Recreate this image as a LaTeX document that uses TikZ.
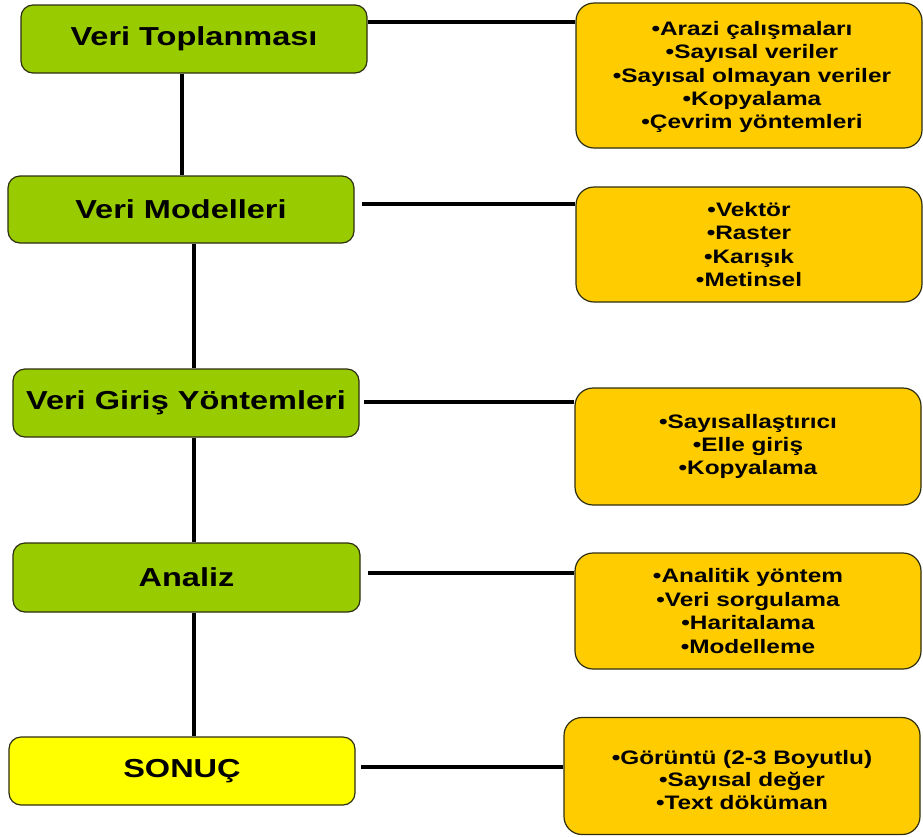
\documentclass[tikz,border=0pt]{standalone}
\usepackage{fontspec}
\setmainfont[FakeStretch=1.25]{Liberation Sans}
\definecolor{gfill}{HTML}{99CC00}
\definecolor{ofill}{HTML}{FFCC00}
\definecolor{yfill}{HTML}{FFFF00}
\definecolor{edge}{HTML}{2E2E10}
\begin{document}
\begin{tikzpicture}[x=1pt,y=-1pt,
  greenbox/.style={draw=edge, line width=1.2pt, fill=gfill, rounded corners=12pt,
    minimum width=346pt, minimum height=68pt, inner sep=0pt,
    font=\fontsize{26}{31}\selectfont\bfseries},
  orangebox/.style={draw=edge, line width=1.2pt, fill=ofill, rounded corners=18pt,
    minimum width=346pt, inner sep=0pt, align=center,
    font=\fontsize{19.5}{23.4}\selectfont\bfseries},
  itemtext/.style={inner sep=0pt, align=center,
    font=\fontsize{19.5}{22.5}\selectfont\bfseries},
  link/.style={line width=4pt}]
\useasboundingbox (0,0) rectangle (923,836);

% green (left) boxes
\node[greenbox] (g1) at (194,39) {Veri Toplanması};
\node[greenbox, minimum height=67pt] (g2) at (181,209.5) {Veri Modelleri};
\node[greenbox] (g3) at (186,403) {Veri Giriş Yöntemleri};
\node[greenbox, minimum width=347pt, minimum height=69pt] (g4) at (186.5,577.5) {Analiz};
\node[greenbox, fill=yfill] (g5) at (182,771) {SONUÇ};

% orange (right) boxes
\node[orangebox, minimum height=145pt] (o1) at (749,75.5) {};
\node[itemtext, font=\fontsize{19.5}{23.4}\selectfont\bfseries] (t1) at (752,77)
  {•Arazi çalışmaları\\•Sayısal veriler\\•Sayısal olmayan veriler\\•Kopyalama\\•Çevrim yöntemleri};
\node[orangebox, minimum height=115pt] (o2) at (749,244.5)
  {•Vektör\\•Raster\\•Karışık\\•Metinsel};
\node[orangebox, minimum height=117pt] (o3) at (748,446.5)
  {•Sayısallaştırıcı\\•Elle giriş\\•Kopyalama};
\node[orangebox, minimum height=116pt] (o4) at (748,611)
  {•Analitik yöntem\\•Veri sorgulama\\•Haritalama\\•Modelleme};
\node[orangebox, minimum width=356pt, minimum height=117pt] (o5) at (742,776) {};
\node[itemtext] (t5) at (742,780)
  {•Görüntü (2-3 Boyutlu)\\•Sayısal değer\\•Text döküman};

% vertical connectors
\coordinate (va) at (182,0);
\coordinate (vb) at (194,0);
\draw[link] (g1.south -| va) -- (g2.north -| va);
\draw[link] (g2.south -| vb) -- (g3.north -| vb);
\draw[link] (g3.south -| vb) -- (g4.north -| vb);
\draw[link] (g4.south -| vb) -- (g5.north -| vb);

% horizontal connectors
\coordinate (h1) at (0,22);
\coordinate (h2) at (0,204);
\coordinate (h3) at (0,402);
\coordinate (h4) at (0,573);
\coordinate (h5) at (0,767);
\draw[link] (g1.east |- h1) -- (o1.west |- h1);
\draw[link] ([xshift=7pt]g2.east |- h2) -- (o2.west |- h2);
\draw[link] ([xshift=4pt]g3.east |- h3) -- (o3.west |- h3);
\draw[link] ([xshift=7pt]g4.east |- h4) -- (o4.west |- h4);
\draw[link] ([xshift=5pt]g5.east |- h5) -- (o5.west |- h5);
\end{tikzpicture}
\end{document}
